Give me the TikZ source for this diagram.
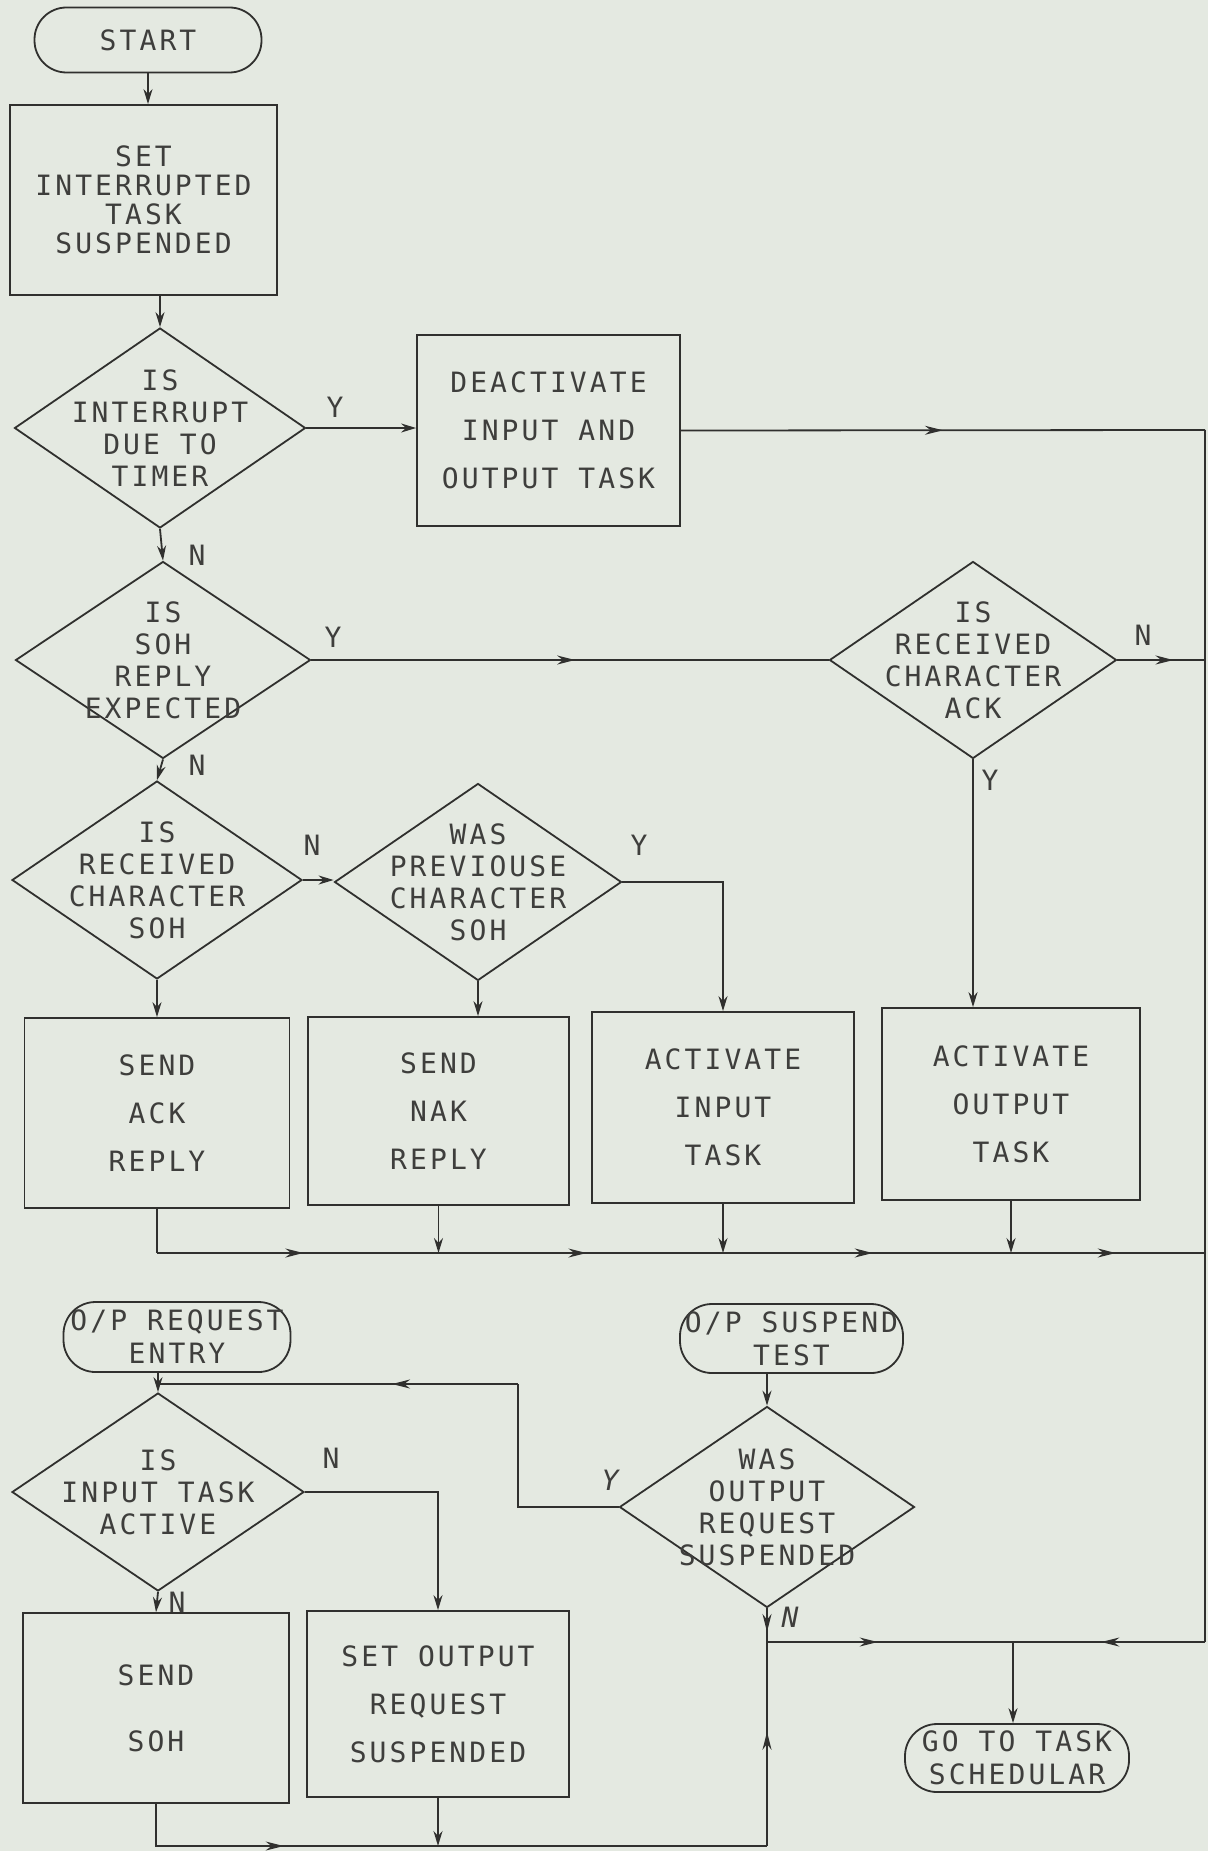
\documentclass[tikz,border=0pt]{standalone}
\usepackage{fontspec}
\newfontfamily\plotfont[LetterSpace=11]{DejaVu Sans Mono}
\usetikzlibrary{shapes.geometric,arrows.meta,decorations.markings}
\definecolor{paper}{RGB}{228,233,225}
\definecolor{ink}{RGB}{48,48,46}
\definecolor{pen}{RGB}{62,62,60}
\tikzset{
  base/.style={font=\plotfont\fontsize{14}{16}\selectfont, text=pen},
  proc/.style={base, draw=ink, rectangle, align=center, inner sep=0pt, line width=0.9pt, font=\plotfont\fontsize{14}{24}\selectfont},
  term/.style={base, draw=ink, rounded corners=16pt, align=center, inner sep=0pt, line width=0.9pt, font=\plotfont\fontsize{14}{16.5}\selectfont},
  dec/.style={draw=ink, diamond, inner sep=0pt, line width=0.9pt},
  dtxt/.style={base, align=center, inner sep=0pt},
  lbl/.style={base, inner sep=0pt},
  line/.style={draw=ink, line width=0.9pt},
  flow/.style={line, -{Stealth[length=7.5pt,width=4.5pt]}},
  marr/.style={line, postaction={decorate}, decoration={markings, mark=at position #1 with {\arrow{Stealth[length=9pt,width=4.5pt]}}}},
  marr/.default=0.5
}
\begin{document}
\begin{tikzpicture}[x=0.5pt,y=-0.5pt]
\fill[paper] (0,0) rectangle (1208,1851);
\useasboundingbox (0,0) rectangle (1208,1851);
% upper chart
\node[term, minimum width=113.5pt, minimum height=32.5pt] (start) at (148,40) {START};
\node[proc, minimum width=133.5pt, minimum height=95pt, font=\plotfont\fontsize{14}{14.5}\selectfont] (susp) at (143.5,200) {SET\\INTERRUPTED\\TASK\\SUSPENDED};
\node[dec, minimum width=145.5pt, minimum height=100pt, label={[dtxt]center:{IS\\INTERRUPT\\DUE TO\\TIMER}}] (timer) at (160,428) {};
\node[proc, minimum width=131.5pt, minimum height=95.5pt] (deact) at (548.5,430.5) {DEACTIVATE\\INPUT AND\\OUTPUT TASK};
\node[dec, minimum width=147.5pt, minimum height=98.5pt, label={[dtxt]center:{IS\\SOH\\REPLY\\EXPECTED}}] (sohexp) at (163,660) {};
\node[dec, minimum width=143.5pt, minimum height=98.5pt, label={[dtxt]center:{IS\\RECEIVED\\CHARACTER\\ACK}}] (ackq) at (973,660) {};
\node[dec, minimum width=145pt, minimum height=99pt, label={[dtxt]center:{IS\\RECEIVED\\CHARACTER\\SOH}}] (rsoh) at (157,880) {};
\node[dec, minimum width=143.5pt, minimum height=98.5pt, label={[dtxt]center:{WAS\\PREVIOUSE\\CHARACTER\\SOH}}] (prev) at (478,882) {};
\node[proc, minimum width=132.5pt, minimum height=95pt] (sendack) at (157,1113) {SEND\\ACK\\REPLY};
\node[proc, minimum width=130.5pt, minimum height=94pt] (sendnak) at (438.5,1111) {SEND\\NAK\\REPLY};
\node[proc, minimum width=131pt, minimum height=95.5pt] (actin) at (723,1107.5) {ACTIVATE\\INPUT\\TASK};
\node[proc, minimum width=129pt, minimum height=96pt] (actout) at (1011,1104) {ACTIVATE\\OUTPUT\\TASK};
% lower chart
\node[term, minimum width=113.5pt, minimum height=35pt] (opreq) at (177,1337) {O/P REQUEST\\ENTRY};
\node[dec, minimum width=146pt, minimum height=99pt, label={[dtxt]center:{IS\\INPUT TASK\\ACTIVE}}] (inact) at (158,1492) {};
\node[proc, minimum width=133pt, minimum height=95pt, font=\plotfont\fontsize{14}{33}\selectfont] (sendsoh) at (156,1708) {SEND\\SOH};
\node[proc, minimum width=131pt, minimum height=93pt] (setout) at (438,1704) {SET OUTPUT\\REQUEST\\SUSPENDED};
\node[term, minimum width=111.5pt, minimum height=34.5pt] (opsusp) at (791.5,1338.5) {O/P SUSPEND\\TEST};
\node[dec, minimum width=147.5pt, minimum height=100.5pt, label={[dtxt]center:{WAS\\OUTPUT\\REQUEST\\SUSPENDED}}] (wasout) at (767,1507) {};
\node[term, minimum width=112pt, minimum height=34pt] (sched) at (1017,1758) {GO TO TASK\\SCHEDULAR};
% free ends of the connectors
\coordinate (rtop) at (1205,430);
\coordinate (rbus) at (1205,1253);
\coordinate (rbot) at (1205,1642);
\coordinate (yup) at (518,1384);
\coordinate (jn) at (767,1642);
\coordinate (js) at (1013,1642);
\coordinate (lowbus) at (767,1846);
% branch labels
\node[lbl] (ly1) at (335,407) {Y};
\node[lbl] (ln1) at (197,555) {N};
\node[lbl] (ly2) at (333,637) {Y};
\node[lbl] (ln2) at (1143,635) {N};
\node[lbl] (ly3) at (990,780) {Y};
\node[lbl] (ln3) at (197,765) {N};
\node[lbl] (ln4) at (312,845) {N};
\node[lbl] (ly4) at (639,845) {Y};
\node[lbl] (ln5) at (331,1458) {N};
\node[lbl] (ln6) at (177,1602) {N};
\node[lbl, font=\plotfont\itshape\fontsize{14}{16}\selectfont] (ly5) at (610,1480) {Y};
\node[lbl, font=\plotfont\itshape\fontsize{14}{16}\selectfont] (ln7) at (790,1617) {N};
% connectors, upper chart
\draw[flow] (start.south) -- (start.south |- susp.north);
\draw[flow] (timer.north |- susp.south) -- (timer.north);
\draw[flow] (timer.east) -- (timer.east -| deact.west);
\draw[marr] (deact.east) -- (rtop);
\draw[line] (rtop) -- (rbot);
\draw[flow] (timer.south) -- (sohexp.north);
\draw[marr=0.51] (sohexp.east) -- (ackq.west);
\draw[marr=0.64] (ackq.east) -- (ackq.east -| rtop);
\draw[flow] (ackq.south) -- (ackq.south |- actout.north);
\draw[flow] (sohexp.south) -- (rsoh.north);
\draw[flow] (rsoh.east) -- (rsoh.east -| prev.west);
\draw[flow] (prev.east) -| (actin.north);
\draw[flow] (rsoh.south) -- (sendack.north);
\draw[flow] (prev.south) -- (prev.south |- sendnak.north);
\draw[line] (sendack.south) -- (sendack.south |- rbus);
\foreach \a/\b in {sendack/sendnak, sendnak/actin, actin/actout}
  \draw[marr=0.52] (\a.south |- rbus) -- (\b.south |- rbus);
\draw[marr=0.54] (actout.south |- rbus) -- (rbus);
\foreach \n in {sendnak, actin, actout}
  \draw[flow] (\n.south) -- (\n.south |- rbus);
% connectors, lower chart
\draw[flow] (inact.north |- opreq.south) -- (inact.north);
\draw[line] (wasout.west) -| (yup);
\draw[marr=0.35] (yup) -- (yup -| inact.north);
\draw[flow] (inact.east) -| (setout.north);
\draw[flow] (inact.south) -- (sendsoh.north);
\draw[flow] (wasout.north |- opsusp.south) -- (wasout.north);
\draw[marr=0.7] (wasout.south) -- (jn);
\draw[marr=0.26] (sendsoh.south) |- (lowbus);
\draw[marr=0.56] (lowbus) -- (jn);
\draw[flow] (setout.south) -- (setout.south |- lowbus);
\draw[marr=0.45] (jn) -- (js);
\draw[marr=0.54] (rbot) -- (js);
\draw[flow] (js) -- (js |- sched.north);
\end{tikzpicture}
\end{document}
